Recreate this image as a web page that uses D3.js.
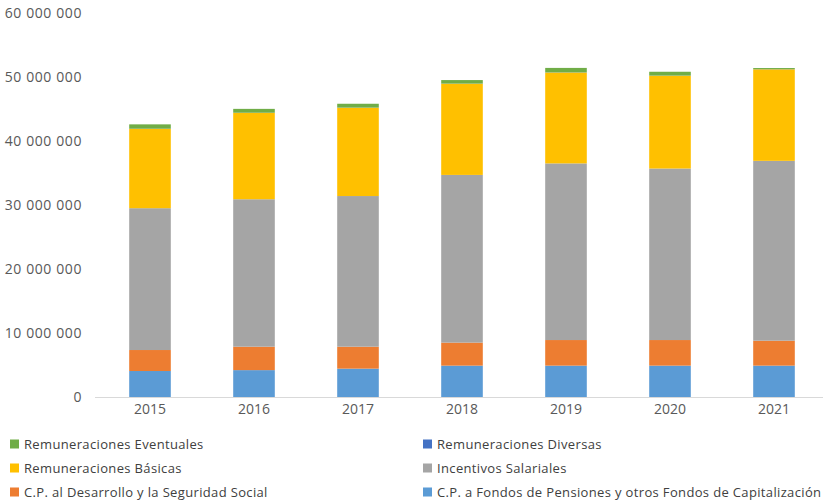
<!DOCTYPE html>
<html>
<head>
<meta charset="utf-8">
<script src="https://cdn.jsdelivr.net/npm/d3@7/dist/d3.min.js"></script>
<style>
  html, body { margin: 0; padding: 0; background: #fff; }
  svg { display: block; }
  text { font-family: "Open Sans", "Noto Sans", sans-serif; }
</style>
</head>
<body>
<svg id="chart" width="826" height="501"></svg>
<script>
// Years on the category axis
const years = ["2015", "2016", "2017", "2018", "2019", "2020", "2021"];

// Series values, stacked bottom to top
const fondosPensiones = [4060000, 4200000, 4430000, 4900000, 4900000, 4900000, 4900000];
const desarrolloSeguridad = [3280000, 3660000, 3430000, 3600000, 4000000, 4000000, 3900000];
const incentivosSalariales = [22160000, 23040000, 23540000, 26200000, 27600000, 26800000, 28100000];
const remuneracionesBasicas = [12400000, 13500000, 13800000, 14250000, 14200000, 14500000, 14300000];
const remuneracionesDiversas = [20000, 20000, 20000, 20000, 20000, 20000, 20000];
const remuneracionesEventuales = [680000, 600000, 600000, 550000, 700000, 600000, 180000];

// Value axis ticks
const yTicks = [0, 10000000, 20000000, 30000000, 40000000, 50000000, 60000000];

const seriesNames = [
  "C.P. a Fondos de Pensiones y otros Fondos de Capitalización",
  "C.P. al Desarrollo y la Seguridad Social",
  "Incentivos Salariales",
  "Remuneraciones Básicas",
  "Remuneraciones Diversas",
  "Remuneraciones Eventuales"
];
const seriesValues = [fondosPensiones, desarrolloSeguridad, incentivosSalariales,
  remuneracionesBasicas, remuneracionesDiversas, remuneracionesEventuales];
const seriesColors = ["#5B9BD5", "#ED7D31", "#A5A5A5", "#FFC000", "#4472C4", "#70AD47"];

const rows = years.map((y, i) => {
  const r = { year: y };
  seriesNames.forEach((n, k) => { r[n] = seriesValues[k][i]; });
  return r;
});

const svg = d3.select("#chart");

const x = d3.scaleBand().domain(years).range([98, 826]).paddingInner(0.6).paddingOuter(0.3);
const y = d3.scaleLinear().domain([0, 60000000]).range([397, 13]);

const stack = d3.stack().keys(seriesNames);
const layers = stack(rows);

// Stacked bars
svg.append("g")
  .selectAll("g")
  .data(layers)
  .join("g")
  .attr("fill", (d, i) => seriesColors[i])
  .selectAll("rect")
  .data(d => d)
  .join("rect")
  .attr("x", d => x(d.data.year))
  .attr("width", x.bandwidth())
  .attr("y", d => y(d[1]))
  .attr("height", d => Math.max(0, y(d[0]) - y(d[1])));

// Category axis baseline
svg.append("line")
  .attr("x1", 95).attr("x2", 823)
  .attr("y1", y(0) + 0.5).attr("y2", y(0) + 0.5)
  .attr("stroke", "#D9D9D9").attr("stroke-width", 1);

// Value axis labels
const fmt = v => d3.format(",")(v).replace(/,/g, " ");
const yAxis = d3.axisLeft(y).tickValues(yTicks).tickFormat(fmt).tickSize(0).tickPadding(0);
const yg = svg.append("g").attr("transform", "translate(82,0)").call(yAxis);
yg.select(".domain").remove();
yg.selectAll("text")
  .attr("fill", "#595959")
  .style("font-size", "14px")
  .style("font-family", "'Open Sans', sans-serif")
  .attr("letter-spacing", "0.6");

// Category labels
const xAxis = d3.axisBottom(x).tickSize(0).tickPadding(0);
const xg = svg.append("g").attr("transform", "translate(0,404)").call(xAxis);
xg.select(".domain").remove();
xg.selectAll("text")
  .attr("fill", "#595959")
  .style("font-size", "14px")
  .style("font-family", "'Open Sans', sans-serif")
  .attr("dy", "0.71em");

// Legend, two columns
const legendOrder = [5, 4, 3, 2, 1, 0];
const legend = svg.append("g");
legendOrder.forEach((k, idx) => {
  const col = idx % 2;
  const row = Math.floor(idx / 2);
  const gx = col === 0 ? 10 : 423;
  const gy = 444 + row * 24;
  const item = legend.append("g").attr("transform", `translate(${gx},${gy})`);
  item.append("rect")
    .attr("x", 0).attr("y", -4.5)
    .attr("width", 9).attr("height", 9)
    .attr("fill", seriesColors[k]);
  item.append("text")
    .attr("x", 14).attr("y", 0)
    .attr("dy", "0.35em")
    .attr("fill", "#404040")
    .attr("letter-spacing", "0.35")
    .style("font-size", "13px")
    .text(seriesNames[k]);
});
</script>
</body>
</html>
